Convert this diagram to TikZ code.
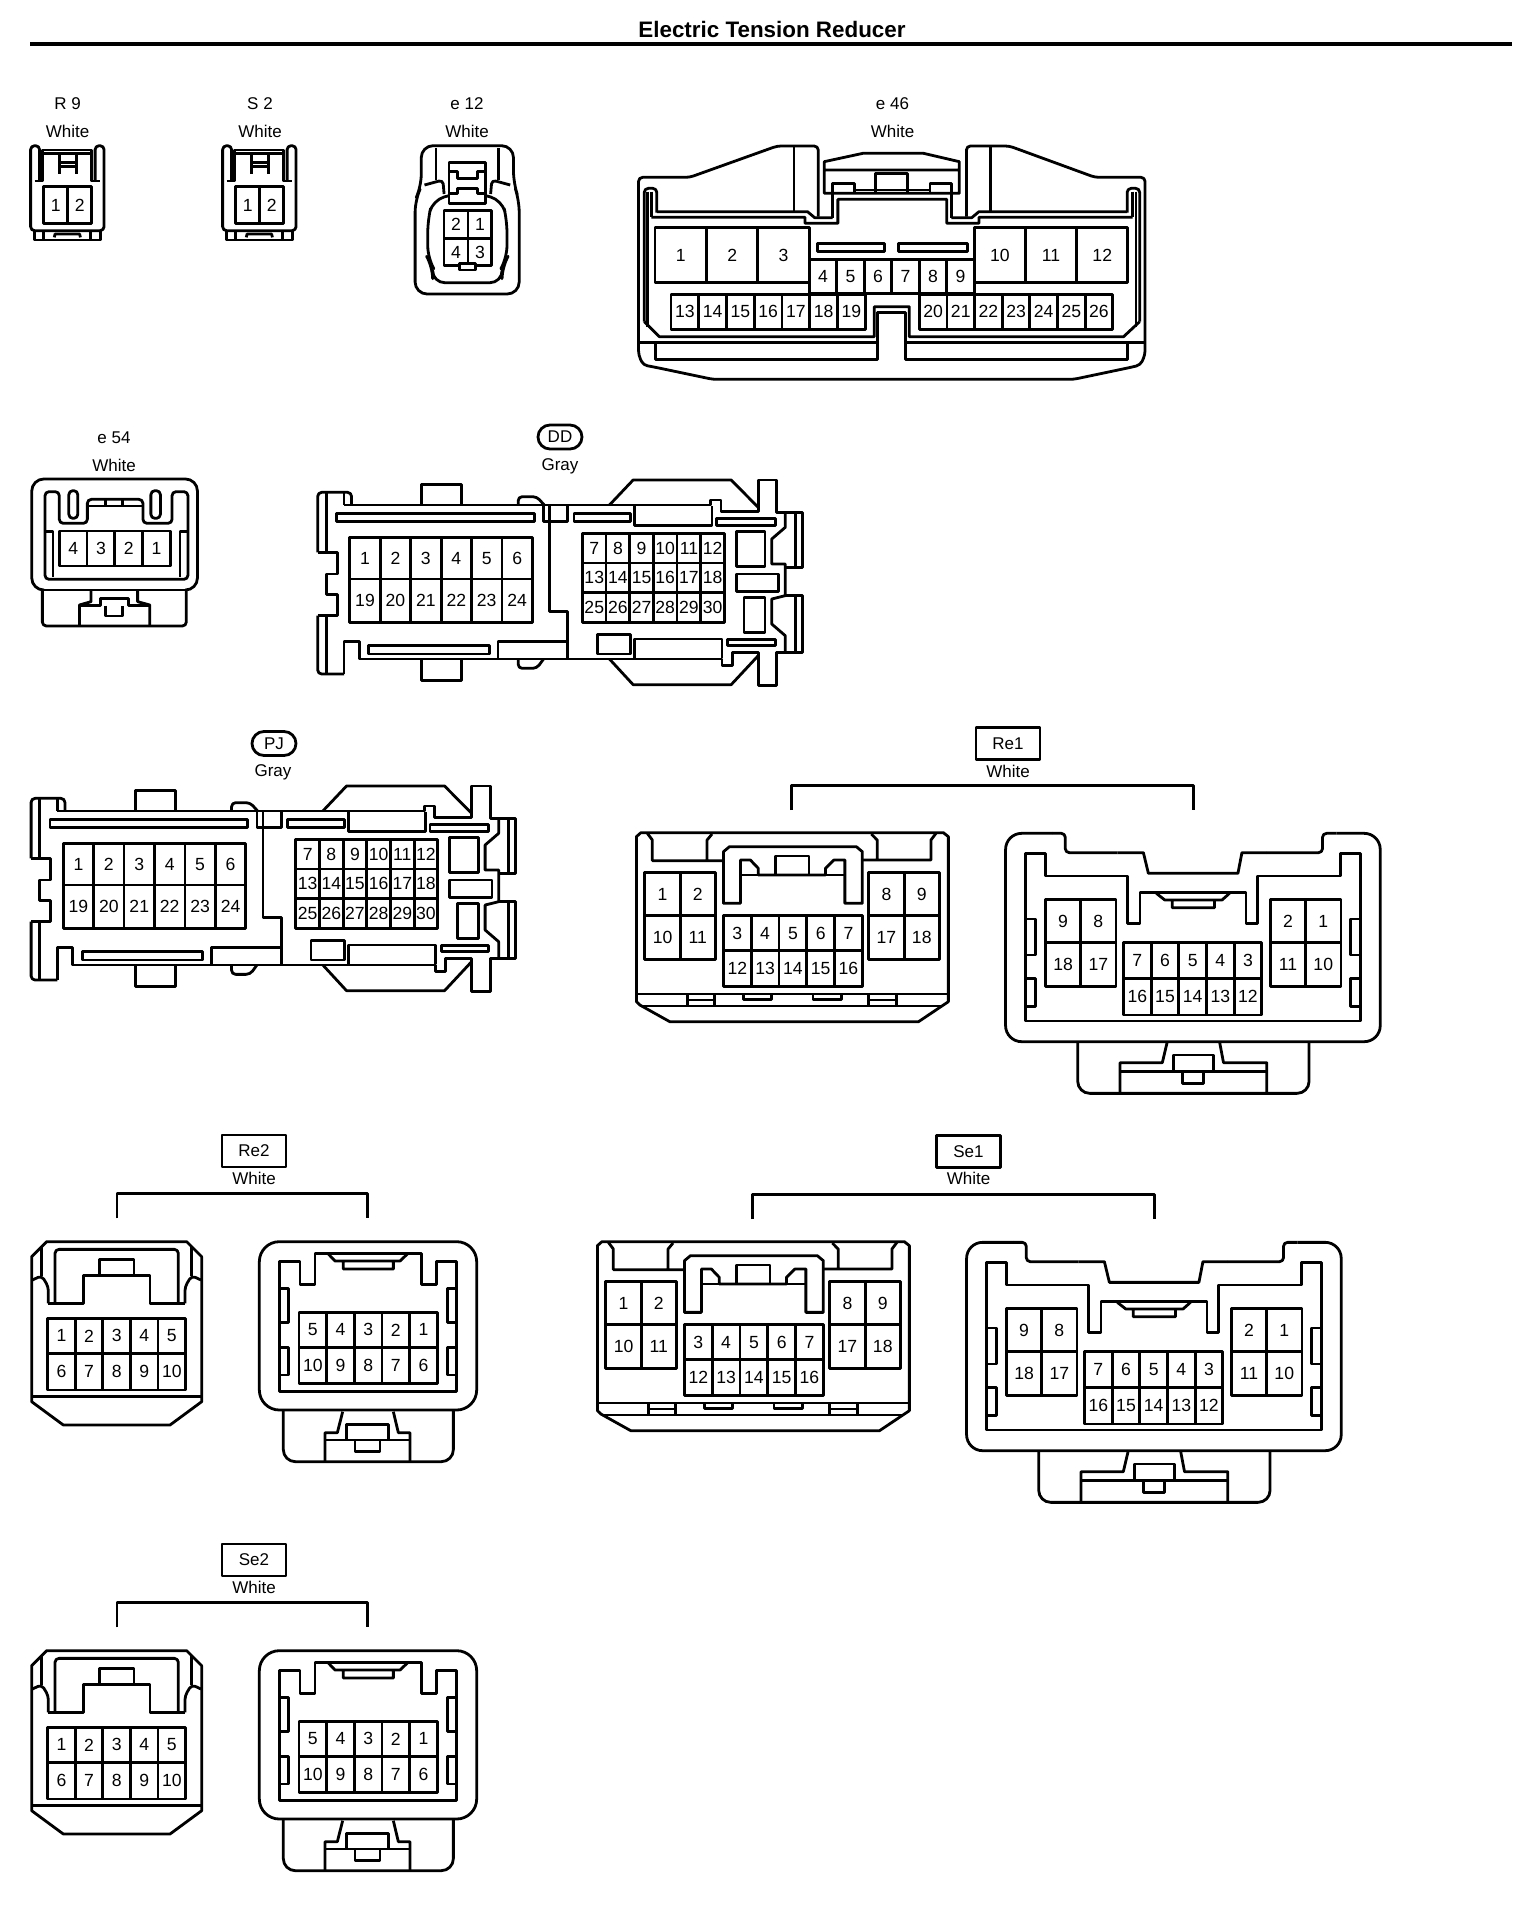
\documentclass[tikz,border=0pt]{standalone}
\usepackage{fontspec}
\setmainfont{Liberation Sans}
\newcounter{pinno}
\tikzset{
  zs/.style n args={3}{shift={(#1,#2)},x=#3pt,y=-.16667pt},
  rc/.style={rounded corners=2pt},
  rcb/.style={rounded corners=6pt},
  rcc/.style={rounded corners=8pt},
  pinnum/.style={font=\fontsize{8.8}{10}\selectfont,inner sep=0pt},
  lbl/.style={font=\fontsize{8.5}{10}\selectfont,inner sep=0pt},
  tagbox/.style={draw,font=\fontsize{8.5}{10}\selectfont,inner sep=0pt,minimum width=32pt,minimum height=16pt},
  pilltag/.style={draw,rounded corners=6pt,font=\fontsize{8.5}{10}\selectfont,inner sep=0pt,minimum width=22pt,minimum height=12pt}
}
\newcommand\pins[5]{%
  \foreach \t [count=\i from 0] in {#5}{%
    \stepcounter{pinno}%
    \draw ({#1+\i*#2},#3) rectangle ({#1+(\i+1)*#2},#4);
    \node[pinnum] (pin\arabic{pinno}) at ({#1+(\i+.5)*#2},{(#3+#4)/2}) {\t};
  }}
\newcommand\ConnTwo{%
\begin{scope}[zs={0}{0}{.20408}]
\draw[rc] (97,540)--(97,437)--(75,437)--(75,692)--(255,692)--(255,437)--(233,437)--(233,540);
\draw (85,543)--(105,543)--(105,450)--(225,450)--(225,543)--(245,543);
\draw (105,460)--(225,460);
\draw (145,465)--(145,522) (187,465)--(187,522) (145,488)--(187,488) (145,500)--(187,500);
\pins{107}{59}{560}{670}{1,2}
\draw (85,692)--(85,720)--(247,720)--(247,692) (107,692)--(107,720) (222,692)--(222,720);
\draw (133,712)--(135,702)--(195,702)--(197,712);
\end{scope}}
\newcommand\ConnPJ{%
\begin{scope}[zs={0}{730}{.16903}]
\draw[rc] (92,385)--(92,205)--(192,205)--(192,243);
\draw (170,243)--(1255,243)--(1255,228)--(1285,228)--(1285,262)--(1395,262)--(1395,168)--(1450,168)--(1450,265)--(1525,265)--(1525,430)--(1475,430);
\draw (400,243)--(400,182)--(518,182)--(518,243);
\draw[rc] (685,243)--(685,218)--(740,218)--(762,243);
\draw (170,207)--(170,243) (118,207)--(118,385);
\draw (955,243)--(1025,168)--(1315,168)--(1395,250);
\draw (1475,265)--(1475,310)--(1435,345)--(1435,420)--(1475,420)--(1475,515)--(1435,525)--(1435,600)--(1475,635)--(1475,685);
\draw (1505,265)--(1505,430) (1505,515)--(1505,685);
\draw (1475,515)--(1525,515)--(1525,685)--(1450,685)--(1450,785)--(1395,785)--(1395,685)--(1318,685)--(1318,725)--(1288,725)--(1288,705)--(215,705)--(215,652)--(170,652)--(170,750);
\draw[rc] (760,705)--(740,733)--(685,733)--(685,705);
\draw (955,705)--(1025,782)--(1315,782)--(1395,695);
\draw (518,705)--(518,770)--(400,770)--(400,705);
\draw[rc] (170,750)--(92,750)--(92,575);
\draw (92,575)--(150,575)--(150,512)--(118,512)--(118,450)--(150,450)--(150,385)--(92,385);
\draw (118,575)--(118,748);
\draw (148,268) rectangle (733,292) (243,665) rectangle (600,690) (850,268) rectangle (1018,292);
\draw (1030,245)--(1030,305)--(1258,305)--(1258,245) (1272,283) rectangle (1445,305) (1305,647) rectangle (1445,665);
\draw (1030,703)--(1030,645)--(1288,645)--(1288,703) (920,632) rectangle (1018,690);
\draw (1330,322) rectangle (1415,427) (1330,450) rectangle (1455,503) (1353,520) rectangle (1415,625);
\draw (760,245)--(760,292)--(832,292)--(832,245);
\draw (778,243)--(778,562)--(832,562)--(832,705) (625,705)--(625,652)--(832,652);
\pins{187}{90}{340}{465}{1,2,3,4,5,6}
\pins{187}{90}{465}{595}{19,20,21,22,23,24}
\pins{875}{70}{328}{417}{7,8,9,10,11,12}
\pins{875}{70}{417}{505}{13,14,15,16,17,18}
\pins{875}{70}{505}{595}{25,26,27,28,29,30}
\end{scope}}
\newcommand\ConnBigL{%
\begin{scope}[zs={620}{720}{.24876}]
\draw (33,350)--(42,338)--(650,338)--(660,350)--(660,845)--(600,905)--(100,905)--(40,855)--(33,845)--cycle;
\draw (33,822)--(660,822) (45,858)--(645,858);
\draw (55,340)--(65,360)--(65,422)--(208,422) (175,422)--(175,360)--(185,342);
\draw (505,342)--(517,360)--(517,420) (487,420)--(625,420)--(625,360)--(635,340);
\draw (208,550)--(208,395)--(220,380)--(475,380)--(487,395)--(487,550)--(452,550)--(452,420)--(430,420)--(413,445)--(413,465)--(278,465)--(278,445)--(262,420)--(242,420)--(242,550)--cycle;
\draw (242,465)--(278,465) (413,465)--(452,465);
\draw (312,465)--(312,408)--(380,408)--(380,465);
\pins{50}{71}{458}{587}{1,2}
\pins{50}{71}{587}{718}{10,11}
\pins{500}{71}{458}{587}{8,9}
\pins{500}{71}{587}{718}{17,18}
\pins{208}{55.8}{587}{692}{3,4,5,6,7}
\pins{208}{55.8}{692}{800}{12,13,14,15,16}
\draw (135,822)--(135,858) (190,822)--(190,858) (135,840)--(190,840);
\draw (500,822)--(500,858) (555,822)--(555,858) (500,840)--(555,840);
\draw (248,822)--(248,838)--(305,838)--(305,822) (388,822)--(388,838)--(445,838)--(445,822);
\end{scope}}
\newcommand\ConnBigR{%
\begin{scope}[zs={620}{720}{.24876}]
\draw[rcc] (775,600)--(775,340)--(870,340);
\draw[rc] (870,340)--(895,340)--(895,398)--(1000,398);
\draw (1000,398)--(1052,398)--(1062,460)--(1242,460)--(1250,398)--(1300,398);
\draw[rc] (1300,398)--(1412,398)--(1412,340)--(1440,340);
\draw[rcc] (1440,340)--(1528,340)--(1528,965)--(775,965)--(775,600);
\draw (815,400)--(855,400)--(855,468)--(1020,468)--(1020,610)--(1045,610)--(1045,518)--(1258,518)--(1258,610)--(1282,610)--(1282,468)--(1448,468)--(1448,400)--(1488,400)--(1488,903)--(815,903)--cycle;
\draw (1078,520)--(1095,540)--(1210,540)--(1225,520) (1110,540)--(1110,563)--(1195,563)--(1195,540);
\draw (815,597)--(835,597)--(835,705)--(815,705) (815,775)--(835,775)--(835,860)--(815,860);
\draw (1488,597)--(1468,597)--(1468,705)--(1488,705) (1488,775)--(1468,775)--(1468,860)--(1488,860);
\pins{855}{71}{538}{668}{9,8}
\pins{855}{71}{668}{800}{18,17}
\pins{1307}{71}{538}{668}{2,1}
\pins{1307}{71}{668}{800}{11,10}
\pins{1012}{55.6}{668}{775}{7,6,5,4,3}
\pins{1012}{55.6}{775}{885}{16,15,14,13,12}
\draw[rcb] (920,965)--(920,1120)--(1385,1120)--(1385,965);
\draw (1100,965)--(1090,1028)--(1005,1028)--(1005,1118) (1205,965)--(1213,1028)--(1300,1028)--(1300,1118);
\draw (1005,1055)--(1300,1055) (1113,1055)--(1113,1005)--(1193,1005)--(1193,1055) (1130,1055)--(1130,1090)--(1172,1090)--(1172,1055);
\end{scope}}
\newcommand\ConnSmall{%
\begin{scope}[zs={0}{1130}{.16667}]
\draw (140,335)--(560,335)--(605,380)--(605,815)--(510,885)--(190,885)--(95,815)--(95,380)--cycle;
\draw (95,800)--(605,800);
\draw (125,352)--(125,437) (575,352)--(575,437);
\draw[rc] (97,450)--(125,437)--(145,470)--(145,520) (603,450)--(575,437)--(555,470)--(555,520);
\draw[rc] (165,520)--(165,358)--(535,358)--(535,520);
\draw (145,520)--(250,520)--(250,437)--(298,437)--(298,388)--(402,388)--(402,437)--(450,437)--(450,520)--(555,520) (298,437)--(402,437);
\pins{143}{82.8}{565}{670}{1,2,3,4,5}
\pins{143}{82.8}{670}{780}{6,7,8,9,10}
\draw[rounded corners=10pt] (778,335) rectangle (1430,840);
\draw (838,395)--(900,395)--(900,463)--(945,463)--(945,370)--(1265,370)--(1265,463)--(1310,463)--(1310,395)--(1370,395)--(1370,785)--(838,785)--cycle;
\draw (985,372)--(1005,393)--(1200,393)--(1222,372) (1030,393)--(1030,417)--(1180,417)--(1180,393);
\draw (838,475)--(865,475)--(865,577)--(838,577) (838,652)--(865,652)--(865,735)--(838,735);
\draw (1370,475)--(1343,475)--(1343,577)--(1370,577) (1370,652)--(1343,652)--(1343,735)--(1370,735);
\pins{897}{83}{547}{652}{5,4,3,2,1}
\pins{897}{83}{652}{760}{10,9,8,7,6}
\draw[rcb] (850,840)--(850,995)--(1360,995)--(1360,840);
\draw (1028,845)--(1012,908)--(975,908)--(975,993) (1180,845)--(1195,908)--(1230,908)--(1230,993);
\draw (975,930)--(1230,930) (1040,930)--(1040,883)--(1165,883)--(1165,930) (1065,930)--(1065,965)--(1140,965)--(1140,930);
\end{scope}}
\begin{document}
\begin{tikzpicture}[x=.5pt,y=-.5pt,line width=1.4pt,line join=round]
\useasboundingbox (0,0) rectangle (1536,1916);
\fill[white] (0,0) rectangle (1536,1916);
% title
\node[font=\fontsize{11.2}{13}\bfseries\selectfont,inner sep=0pt] (title) at (772,29) {Electric Tension Reducer};
\draw[line width=2pt] (30,43.7)--(1512,43.7);
% R9, S2
\node[lbl] (r9) at (67.5,104) {R 9};
\node[lbl] (r9c) at (67.5,131) {White};
\ConnTwo
\node[lbl] (s2) at (260,104) {S 2};
\node[lbl] (s2c) at (260,131) {White};
\begin{scope}[shift={(192,0)}]\ConnTwo\end{scope}
% e12
\node[lbl] (e12) at (467,104) {e 12};
\node[lbl] (e12c) at (467,131) {White};
\begin{scope}[zs={0}{0}{.20408}]
\draw[rcb] (1032,560)--(1032,437)--(1258,437)--(1258,550)--(1272,600)--(1272,882)--(1017,882)--(1017,600)--cycle;
\draw[rc] (1068,540)--(1068,445) (1222,540)--(1222,445);
\draw[rc] (1040,555)--(1085,540)--(1088,582) (1250,555)--(1205,540)--(1202,582);
\draw[rcb] (1100,587)--(1060,600)--(1048,660)--(1048,775)--(1060,800)--(1060,848)--(1230,848)--(1230,800)--(1242,775)--(1242,660)--(1230,600)--(1190,587);
\draw (1100,487) rectangle (1190,610);
\draw (1100,515)--(1120,515)--(1120,535)--(1170,535)--(1170,515)--(1190,515);
\draw (1100,580)--(1120,580)--(1120,565)--(1170,565)--(1170,580)--(1190,580);
\pins{1088}{58.5}{632}{715}{2,1}
\pins{1088}{58.5}{715}{797}{4,3}
\draw[fill=white] (1125,790) rectangle (1165,810);
\end{scope}
% e46
\node[lbl] (e46) at (892.5,104) {e 46};
\node[lbl] (e46c) at (892.5,131) {White};
\begin{scope}[zs={620}{120}{.17857}]
\draw[rc] (555,290)--(555,78)--(440,78)--(195,172)--(52,172)--(52,705)--(65,735)--(100,742)--(260,778)--(1270,778)--(1430,742)--(1457,735)--(1470,705)--(1470,172)--(1330,172)--(1090,78)--(970,78)--(970,290);
\draw (487,78)--(487,272) (1037,78)--(1037,272);
\draw (572,220)--(572,125)--(680,100)--(850,100)--(950,125)--(950,220)--cycle (572,150)--(950,150);
\draw (715,215)--(715,160)--(805,160)--(805,215);
\draw (595,293)--(595,190)--(657,190)--(657,215) (868,215)--(868,190)--(928,190)--(928,293);
\draw (657,210)--(868,210);
\draw (103,275)--(525,275)--(545,293)--(595,293) (88,292)--(518,292)--(518,310)--(610,310)--(610,238)--(915,238)--(915,310)--(1005,310)--(1005,292)--(1435,292);
\draw (928,293)--(985,293)--(1005,275)--(1420,275);
\draw[rc] (68,605)--(68,205)--(103,205)--(103,278) (1455,605)--(1455,205)--(1420,205)--(1420,278);
\draw (88,215)--(88,292) (1435,215)--(1435,292);
\draw (78,215)--(78,620) (1445,215)--(1445,620);
\draw (68,605)--(110,650)--(712,650)--(712,560)--(810,560)--(810,650)--(1410,650)--(1455,605);
\draw (52,668)--(722,668) (800,668)--(1470,668);
\draw (100,668)--(100,718)--(722,718)--(722,578)--(800,578)--(800,718)--(1420,718)--(1420,668);
\draw (552,370) rectangle (740,395) (780,370) rectangle (972,395);
\pins{98}{144}{323}{488}{1,2,3}
\pins{992}{143.3}{323}{488}{10,11,12}
\pins{530}{77}{418}{520}{4,5,6,7,8,9}
\pins{143}{77.7}{523}{628}{13,14,15,16,17,18,19}
\pins{838}{77.4}{523}{628}{20,21,22,23,24,25,26}
\end{scope}
% e54
\node[lbl] (e54) at (114,438) {e 54};
\node[lbl] (e54c) at (114,465) {White};
\begin{scope}[zs={0}{420}{.26469}]
\draw[rcb] (80,510)--(60,510)--(60,177)--(373,177)--(373,510)--(352,510);
\draw (80,510)--(352,510);
\draw[rc] (85,478)--(85,215)--(112,215)--(112,310)--(165,310)--(165,238)--(270,238)--(270,310)--(325,310)--(325,215)--(355,215)--(355,478)--cycle;
\draw[rounded corners=2pt] (130,212) rectangle (147,295) (285,212) rectangle (303,295);
\draw (165,258)--(270,258) (200,238)--(200,258) (232,238)--(232,258);
\draw (85,335)--(100,335)--(100,470) (355,335)--(340,335)--(340,470);
\pins{112}{52.5}{333}{438}{4,3,2,1}
\draw[rc] (80,510)--(80,618)--(352,618)--(352,510);
\draw (172,510)--(172,545)--(150,555)--(150,616) (260,510)--(260,545)--(283,555)--(283,616);
\draw (150,557)--(190,557)--(190,535)--(243,535)--(243,557)--(283,557) (200,557)--(200,588)--(232,588)--(232,557);
\end{scope}
% DD
\node[pilltag] (dd) at (560,437) {DD};
\node[lbl] (ddc) at (560,466.5) {Gray};
\begin{scope}[shift={(286.6,-306)}]\ConnPJ\end{scope}
% PJ
\node[pilltag] (pj) at (274,743.5) {PJ};
\node[lbl] (pjc) at (273,772.5) {Gray};
\ConnPJ
% Re1
\node[tagbox] (re1) at (1008,743.5) {Re1};
\node[lbl] (re1c) at (1008,771) {White};
\begin{scope}[zs={620}{720}{.24876}]
\coordinate (re1a) at (345,270); \coordinate (re1b) at (1152,270);
\draw (re1a)--(345,197)--(1152,197)--(re1b);
\end{scope}
\ConnBigL
\ConnBigR
% Re2
\node[tagbox] (re2) at (254,1151) {Re2};
\node[lbl] (re2c) at (254,1178) {White};
\begin{scope}[zs={0}{1130}{.16667}]
\coordinate (re2a) at (351,265); \coordinate (re2b) at (1102,265);
\draw (re2a)--(351,190)--(1102,190)--(re2b);
\end{scope}
\ConnSmall
% Se1
\node[tagbox] (se1) at (968.5,1151.5) {Se1};
\node[lbl] (se1c) at (968.5,1178.5) {White};
\begin{scope}[shift={(-39,409)}]
\begin{scope}[zs={620}{720}{.24876}]
\coordinate (se1a) at (345,270); \coordinate (se1b) at (1152,270);
\draw (se1a)--(345,197)--(1152,197)--(se1b);
\end{scope}
\ConnBigL
\ConnBigR
\end{scope}
% Se2
\node[tagbox] (se2) at (254,1560) {Se2};
\node[lbl] (se2c) at (254,1587) {White};
\begin{scope}[shift={(0,409)}]
\begin{scope}[zs={0}{1130}{.16667}]
\coordinate (se2a) at (351,265); \coordinate (se2b) at (1102,265);
\draw (se2a)--(351,190)--(1102,190)--(se2b);
\end{scope}
\ConnSmall
\end{scope}
\end{tikzpicture}
\end{document}
